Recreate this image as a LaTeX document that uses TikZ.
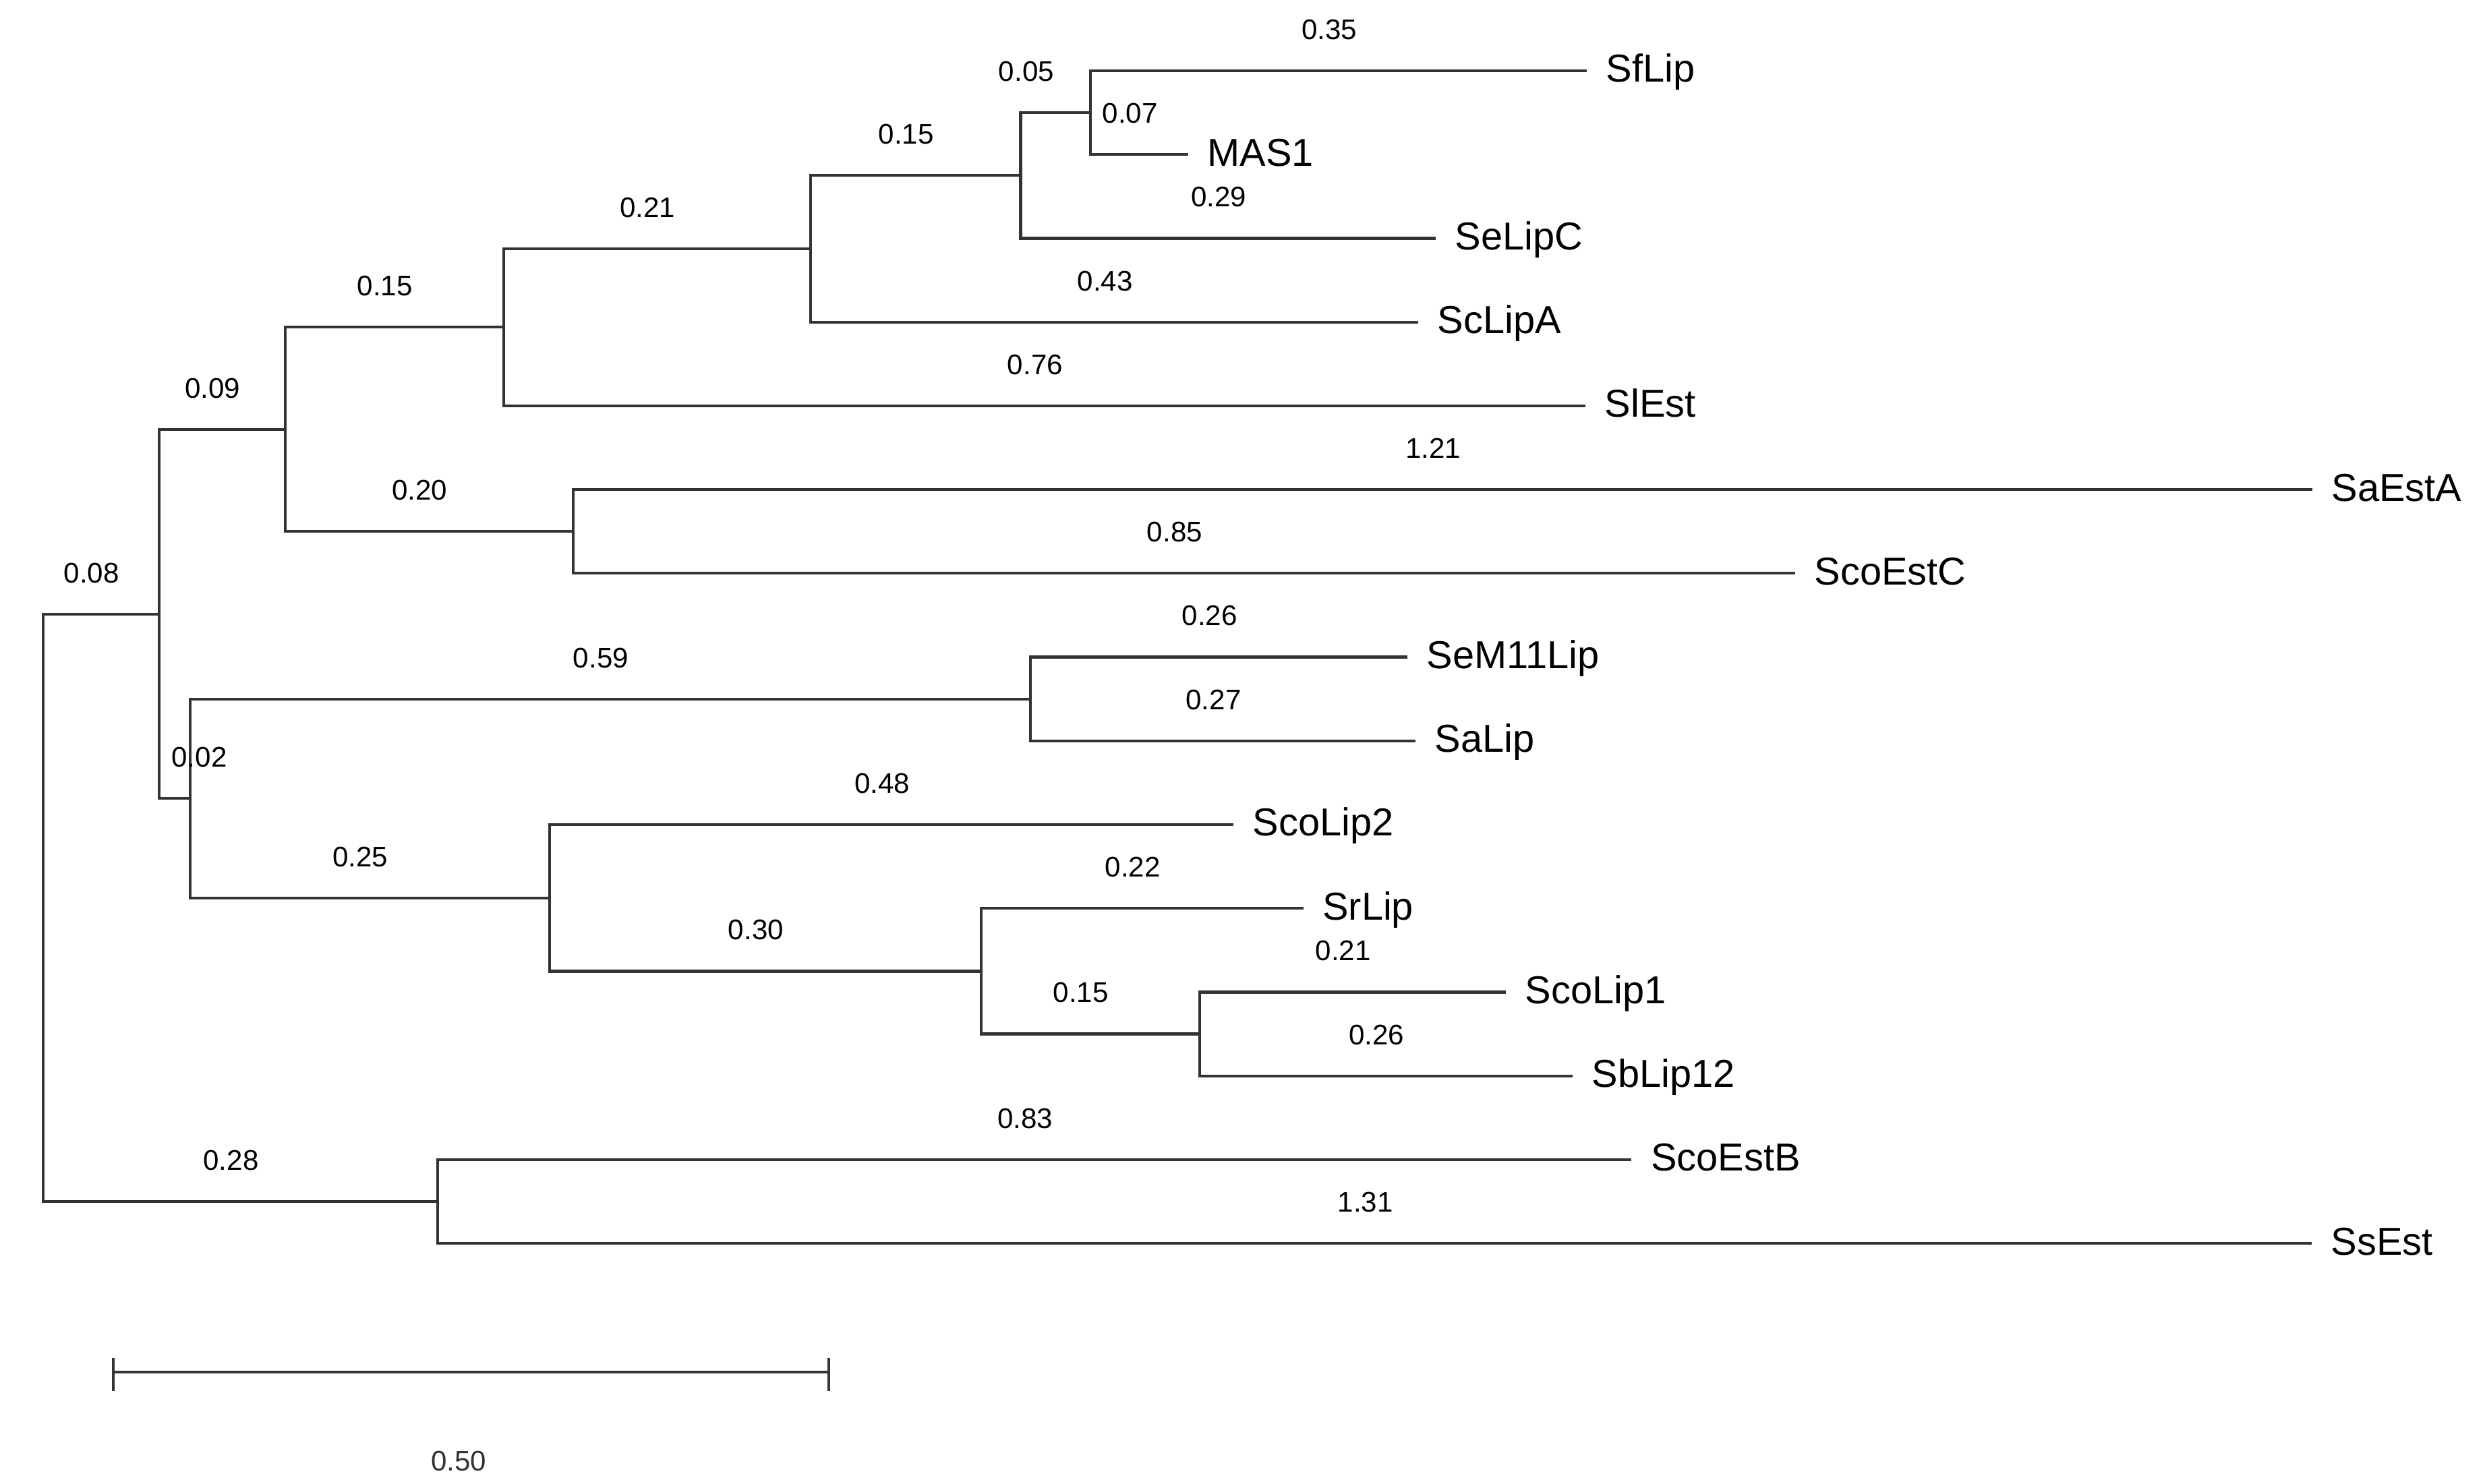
\documentclass[tikz,border=0pt]{standalone}
\usepackage{fontspec}
\setmainfont{Liberation Sans}
\usetikzlibrary{calc}

\begin{document}
\begin{tikzpicture}[
	br/.style={line width=0.5pt, draw=black!80},
	lf/.style={anchor=base west, inner sep=0pt, xshift=0.115cm, yshift=-2.05pt, font=\fontsize{7}{8}\selectfont},
	bl/.style={pos=0.75, inner sep=0pt, xshift=-0.06cm, yshift=0.26cm, font=\fontsize{5.1}{6}\selectfont}]
	\useasboundingbox (0,0) rectangle (15.68,-9.37);

	% leaves
	\foreach \n/\x/\y/\t in {sflip/10.02/-0.447/SfLip, mas/7.504/-0.976/MAS1, selipc/9.067/-1.505/SeLipC,
		sclipa/8.957/-2.034/ScLipA, slest/10.013/-2.563/SlEst, saesta/14.602/-3.092/SaEstA,
		scoestc/11.336/-3.621/ScoEstC, sem/8.888/-4.150/SeM11Lip, salip/8.938/-4.679/SaLip,
		scolip2/7.79/-5.208/ScoLip2, srlip/8.23/-5.737/SrLip, scolip1/9.509/-6.266/ScoLip1,
		sblip/9.93/-6.795/SbLip12, scoestb/10.303/-7.324/ScoEstB, ssest/14.599/-7.853/SsEst}
	{
		\coordinate (\n) at (\x,\y);
		\node[lf] (\n-t) at (\n) {\t};
	}

	% internal nodes
	\coordinate (R) at (0.272,-5.733);
	\coordinate (A) at (1.005,-3.8775);
	\coordinate (B) at (1.800,-2.712);
	\coordinate (C) at (3.180,-2.067);
	\coordinate (D) at (5.120,-1.571);
	\coordinate (E) at (6.445,-1.108);
	\coordinate (F) at (6.887,-0.7115);
	\coordinate (G) at (3.620,-3.3565);
	\coordinate (H) at (1.200,-5.043);
	\coordinate (I) at (6.508,-4.4145);
	\coordinate (J) at (3.470,-5.671);
	\coordinate (K) at (6.197,-6.134);
	\coordinate (L) at (7.574,-6.5305);
	\coordinate (M) at (2.765,-7.5885);

	% branches
	\foreach \p/\c/\v in {R/A/0.08, R/M/0.28, A/B/0.09, B/C/0.15, B/G/0.20, C/D/0.21, C/slest/0.76,
		D/E/0.15, D/sclipa/0.43, E/selipc/0.29, F/sflip/0.35, F/mas/0.07, G/saesta/1.21,
		G/scoestc/0.85, H/I/0.59, H/J/0.25, I/sem/0.26, I/salip/0.27, J/scolip2/0.48, J/K/0.30,
		K/srlip/0.22, K/L/0.15, L/scolip1/0.21, L/sblip/0.26, M/scoestb/0.83, M/ssest/1.31}
		\draw[br] (\p) |- (\c) node[bl] (b-\c) {\v};
	\draw[br] (A) |- (H) node[bl, xshift=0.216cm] (b-H) {0.02};
	\draw[br] (E) |- (F) node[bl, xshift=-0.125cm] (b-F) {0.05};

	% scale bar
	\coordinate (s0) at (0.715,-8.667);
	\coordinate (s1) at (5.235,-8.667);
	\draw[br] (s0) -- (s1);
	\draw[br] ($(s0)+(0,0.09)$) -- ($(s0)+(0,-0.118)$);
	\draw[br] ($(s1)+(0,0.09)$) -- ($(s1)+(0,-0.118)$);
	\node[inner sep=0pt, font=\fontsize{5.1}{6}\selectfont, text=black!80] (s-t) at ($(s0)!0.5!(s1)+(-0.078,-0.56)$) {0.50};
\end{tikzpicture}
\end{document}
